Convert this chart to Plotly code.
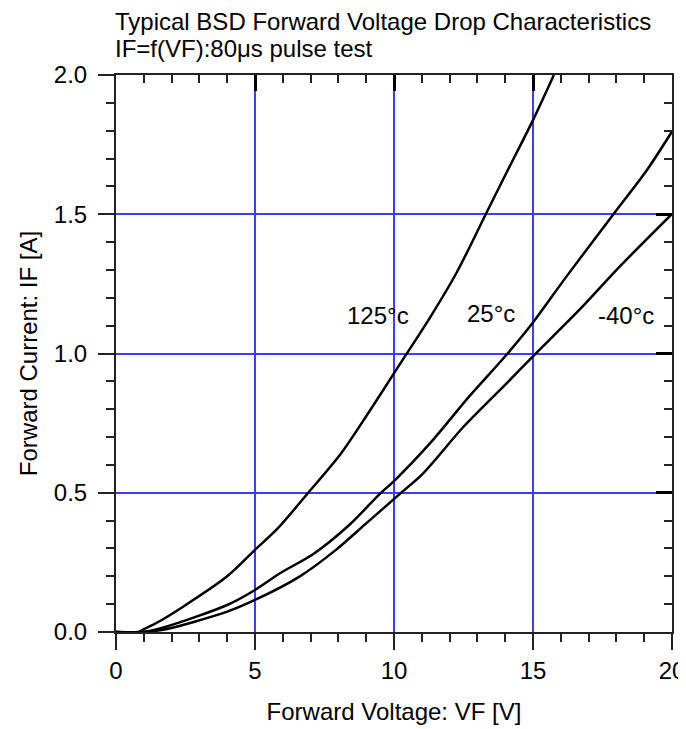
import plotly.graph_objects as go

# ---- data ----
vf_125 = [0, 0.8, 1.0, 1.5, 2.4, 4.0, 5.0, 5.8, 6.9, 8.1, 9.1, 10.2, 11.3, 12.25, 13.3, 14.05, 15.0, 15.75]
if_125 = [0, 0, 0.01, 0.035, 0.09, 0.2, 0.295, 0.37, 0.498, 0.642, 0.79, 0.96, 1.13, 1.29, 1.5, 1.65, 1.838, 2.0]

vf_25 = [0, 1.0, 1.8, 4.0, 5.0, 5.9, 7.1, 8.4, 9.5, 10.0, 11.3, 12.7, 14.0, 14.95, 16.2, 17.9, 19.1, 20]
if_25 = [0, 0, 0.019, 0.097, 0.151, 0.211, 0.28, 0.385, 0.497, 0.542, 0.678, 0.845, 0.99, 1.105, 1.276, 1.501, 1.659, 1.797]

vf_m40 = [0, 1.0, 1.8, 4.0, 5.0, 6.6, 7.9, 9.0, 10.2, 11.05, 12.5, 14.05, 15.0, 16.7, 18.1, 20]
if_m40 = [0, 0, 0.01, 0.073, 0.115, 0.199, 0.294, 0.39, 0.495, 0.57, 0.737, 0.893, 0.99, 1.16, 1.31, 1.501]

labels = ["125°c", "25°c", "-40°c"]
label_x = [9.44, 13.49, 18.35]
label_y = [1.136, 1.145, 1.135]

title_lines = ["Typical BSD Forward Voltage Drop Characteristics", "IF=f(VF):80μs pulse test"]
x_title = "Forward Voltage: VF [V]"
y_title = "Forward Current: IF [A]"

FONT = "Liberation Sans, Arial, sans-serif"
AX = "#222222"
GRID = "#3c3cff"

# page body has an 8px default margin; figure size/margins compensate for it
W, H = 678, 721
ML, MR, MT, MB = 108, 14, 67, 97

fig = go.Figure()
for xs, ys in [(vf_125, if_125), (vf_25, if_25), (vf_m40, if_m40)]:
    fig.add_trace(go.Scatter(x=xs, y=ys, mode="lines", showlegend=False,
                             line=dict(color="black", width=2.5, shape="spline", smoothing=0.8),
                             hoverinfo="x+y"))
# dummy trace to bind mirror axes
fig.add_trace(go.Scatter(x=[], y=[], xaxis="x2", yaxis="y2", showlegend=False))

for t, x, y in zip(labels, label_x, label_y):
    fig.add_annotation(x=x, y=y, text=t, showarrow=False, xanchor="center", yanchor="middle",
                       font=dict(size=24, color="black", family=FONT))

plot_h = H - MT - MB
fig.add_annotation(xref="paper", yref="paper", x=-0.006, y=1 + (MT - 14) / plot_h, text=title_lines[0],
                   showarrow=False, xanchor="left", yanchor="middle",
                   font=dict(size=24, color="black", family=FONT))
fig.add_annotation(xref="paper", yref="paper", x=-0.006, y=1 + (MT - 41) / plot_h, text=title_lines[1],
                   showarrow=False, xanchor="left", yanchor="middle",
                   font=dict(size=24, color="black", family=FONT))

common_tick = dict(tickcolor=AX, tickwidth=2, ticklen=16,
                   tickfont=dict(size=24, family=FONT, color="black"))

fig.update_layout(
    width=W, height=H,
    margin=dict(l=ML, r=MR, t=MT, b=MB),
    plot_bgcolor="white", paper_bgcolor="white",
    font=dict(family=FONT, color="black"),
    xaxis=dict(range=[0, 20], tickmode="linear", tick0=0, dtick=5, ticks="outside",
               automargin=False,
               showline=True, linecolor=AX, linewidth=2,
               showgrid=True, gridcolor=GRID, gridwidth=2, zeroline=False,
               minor=dict(tickmode="linear", dtick=1, ticks="outside", ticklen=8, tickwidth=1.5,
                          tickcolor=AX, showgrid=False),
               title=dict(text=x_title, font=dict(size=24, family=FONT), standoff=20),
               **common_tick),
    yaxis=dict(range=[0, 2], tickmode="linear", tick0=0, dtick=0.5, ticks="outside",
               tickformat=".1f", automargin=False, ticklabelstandoff=6,
               showline=True, linecolor=AX, linewidth=2,
               showgrid=True, gridcolor=GRID, gridwidth=2, zeroline=False,
               minor=dict(tickmode="linear", dtick=0.1, ticks="outside", ticklen=8, tickwidth=1.5,
                          tickcolor=AX, showgrid=False),
               title=dict(text=y_title, font=dict(size=24, family=FONT), standoff=9),
               **common_tick),
    xaxis2=dict(range=[0, 20], overlaying="x", side="top", tickmode="linear", tick0=0, dtick=5,
                ticks="inside", showticklabels=False, showline=True, linecolor=AX, linewidth=2,
                showgrid=False, zeroline=False, automargin=False,
                minor=dict(tickmode="linear", dtick=1, ticks="inside", ticklen=8, tickwidth=1.5,
                           tickcolor=AX, showgrid=False),
                tickcolor="black", tickwidth=2.5, ticklen=16),
    yaxis2=dict(range=[0, 2], overlaying="y", side="right", tickmode="linear", tick0=0, dtick=0.5,
                ticks="inside", showticklabels=False, showline=True, linecolor=AX, linewidth=2,
                showgrid=False, zeroline=False, automargin=False,
                minor=dict(tickmode="linear", dtick=0.1, ticks="inside", ticklen=8, tickwidth=1.5,
                           tickcolor=AX, showgrid=False),
                tickcolor="black", tickwidth=2.5, ticklen=16),
)

fig.write_html("out.html")
